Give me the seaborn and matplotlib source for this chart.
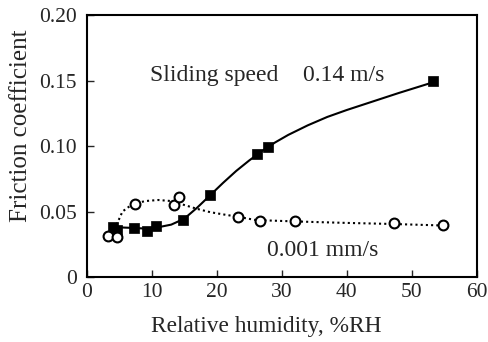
import matplotlib
matplotlib.use("Agg")
import matplotlib.pyplot as plt
import seaborn as sns

# Measured points, sliding speed 0.14 m/s (filled squares)
fast_rh = [4.1, 4.7, 7.2, 9.3, 10.6, 14.8, 19.0, 26.2, 27.9, 53.3]
fast_mu = [0.038, 0.036, 0.0376, 0.0353, 0.039, 0.0433, 0.0628, 0.0939, 0.0992, 0.1496]
# Measured points, sliding speed 0.001 mm/s (open circles)
slow_rh = [3.3, 4.7, 7.4, 13.4, 14.2, 23.2, 26.6, 32.1, 47.3, 54.8]
slow_mu = [0.0313, 0.0308, 0.056, 0.055, 0.0613, 0.046, 0.0427, 0.0427, 0.041, 0.0397]

# Trend curves
fast_curve_rh = [4.5, 7, 9, 11, 13, 15, 17, 19, 21, 23, 25, 27, 29, 31, 34, 37, 40, 44, 48, 53.5]
fast_curve_mu = [0.038, 0.0375, 0.037, 0.038, 0.040, 0.0445, 0.053, 0.0625, 0.072, 0.081,
                 0.089, 0.0963, 0.1028, 0.1085, 0.1158, 0.1222, 0.1275, 0.1340, 0.1405, 0.149]
slow_curve_rh = [4.6, 5.5, 7, 9, 11, 13, 15, 17, 19, 21, 23, 26, 30, 35, 40, 47, 55]
slow_curve_mu = [0.040, 0.050, 0.0555, 0.058, 0.0588, 0.058, 0.055, 0.052, 0.0495, 0.0478,
                 0.0462, 0.0435, 0.0428, 0.042, 0.0413, 0.0405, 0.0393]

x_ticks = [0, 10, 20, 30, 40, 50, 60]
y_ticks = [0, 0.05, 0.10, 0.15, 0.20]
y_tick_labels = ["0", "0.05", "0.10", "0.15", "0.20"]

sns.set_style("white")
plt.rcParams["font.family"] = ["Liberation Serif", "DejaVu Serif"]

fig = plt.figure(figsize=(4.88, 3.42), dpi=100)
ax = fig.add_axes([0.1777, 0.19, 0.7993, 0.766])

sns.lineplot(x=fast_curve_rh, y=fast_curve_mu, ax=ax, color="black", lw=1.5, sort=False)
sns.lineplot(x=slow_curve_rh, y=slow_curve_mu, ax=ax, color="black", lw=1.5,
             linestyle=(0, (1, 1.5)), sort=False)
sns.scatterplot(x=fast_rh, y=fast_mu, ax=ax, marker="s", s=60, color="black",
                edgecolor="black", linewidth=0.5, zorder=5)
sns.scatterplot(x=slow_rh, y=slow_mu, ax=ax, marker="o", s=50, facecolor="white",
                edgecolor="black", linewidth=1.5, zorder=5)

ax.set_xlim(0, 60)
ax.set_ylim(0, 0.20)
ax.set_xticks(x_ticks)
ax.set_yticks(y_ticks)
ax.set_yticklabels(y_tick_labels)
ax.tick_params(direction="in", length=5, width=1, labelsize=15.5, pad=7,
               top=False, right=False, bottom=True, left=True)
ax.tick_params(axis="x", pad=4)
for sp in ax.spines.values():
    sp.set_linewidth(1.5)
    sp.set_color("black")

ax.set_xlabel("Relative humidity, %RH", fontsize=16.8)
ax.set_ylabel("Friction coefficient", fontsize=18)
ax.xaxis.set_label_coords(0.46, -0.15)
ax.yaxis.set_label_coords(-0.14, 0.576)

ax.text(9.74, 0.154, "Sliding speed", fontsize=17, va="center", ha="left")
ax.text(33.3, 0.154, "0.14 m/s", fontsize=17, va="center", ha="left")
ax.text(27.7, 0.0206, "0.001 mm/s", fontsize=17, va="center", ha="left")

fig.savefig("out.png", dpi=100)
